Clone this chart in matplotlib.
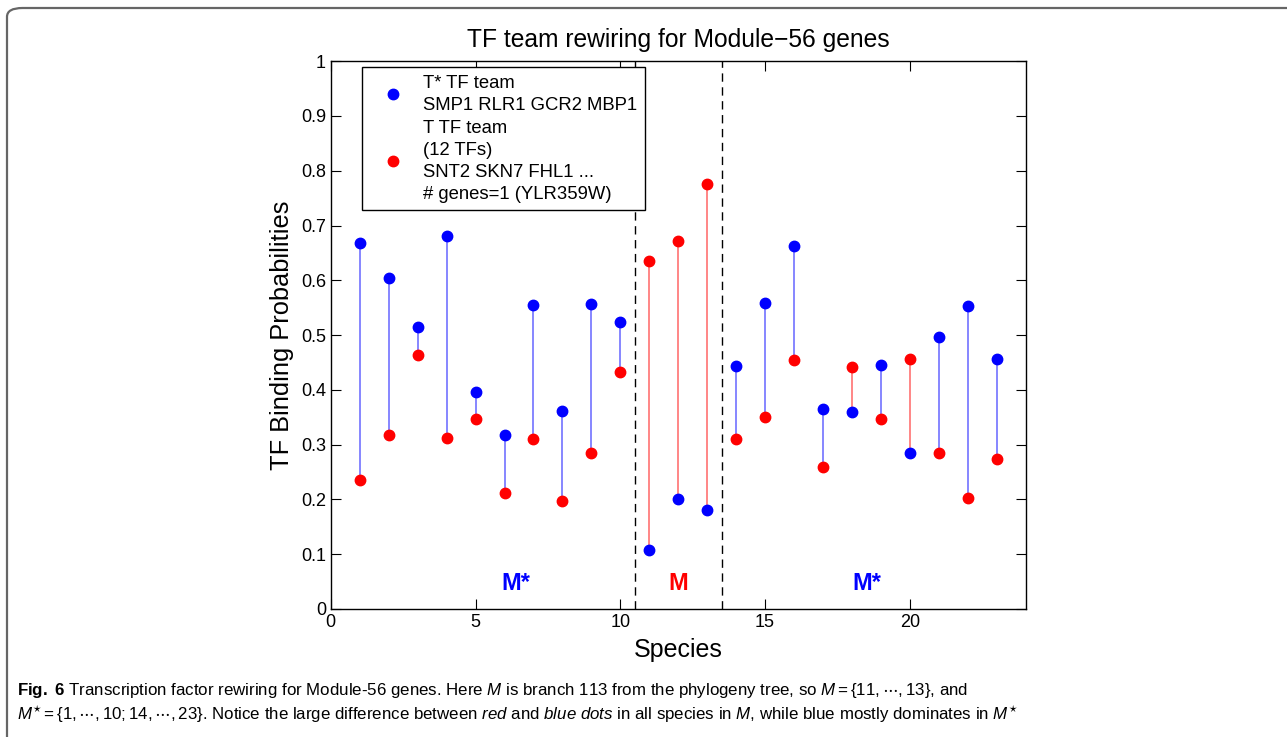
import numpy as np
import matplotlib
matplotlib.use('Agg')
import matplotlib.pyplot as plt
from matplotlib.patches import FancyBboxPatch

plt.rcParams['font.family'] = ['Liberation Sans', 'DejaVu Sans']
plt.rcParams['mathtext.fontset'] = 'custom'
plt.rcParams['mathtext.rm'] = 'Liberation Sans'
plt.rcParams['mathtext.it'] = 'Liberation Sans:italic'
plt.rcParams['mathtext.bf'] = 'Liberation Sans:bold'

# Data
species = np.arange(1, 24)
p_blue = [0.668, 0.604, 0.515, 0.680, 0.397, 0.318, 0.554, 0.362, 0.557, 0.523,
          0.107, 0.200, 0.180,
          0.443, 0.559, 0.662, 0.365, 0.360, 0.446, 0.285, 0.497, 0.553, 0.457]
p_red = [0.235, 0.318, 0.463, 0.312, 0.346, 0.212, 0.310, 0.198, 0.284, 0.432,
         0.636, 0.671, 0.776,
         0.311, 0.350, 0.455, 0.260, 0.442, 0.347, 0.456, 0.284, 0.203, 0.273]
branch_edges = [10.5, 13.5]
regions = [(6.4, 'M*', 'blue'), (12.0, 'M', 'red'), (18.5, 'M*', 'blue')]

label_blue = 'T* TF team\nSMP1 RLR1 GCR2 MBP1'
label_red = 'T TF team\n(12 TFs)\nSNT2 SKN7 FHL1 ...\n# genes=1 (YLR359W)'

fig = plt.figure(figsize=(12.87, 7.37), dpi=100)
ax = fig.add_axes([0.257, 0.1737, 0.54, 0.7433])

# connecting lines, coloured by the larger value
for s, b, r in zip(species, p_blue, p_red):
    col = '#3333ff' if b >= r else '#ff3333'
    ax.plot([s, s], [b, r], color=col, lw=1.1, alpha=0.75, zorder=1)

ax.plot(species, p_blue, 'o', color='blue', ms=7.5, mec='blue', zorder=3, label=label_blue)
ax.plot(species, p_red, 'o', color='red', ms=7.5, mec='red', zorder=2, label=label_red)

for xe in branch_edges:
    ax.axvline(xe, color='black', ls=(0, (6, 4)), lw=1.0, zorder=0)

for x, txt, col in regions:
    ax.text(x, 0.047, txt, color=col, fontsize=17, fontweight='bold', ha='center', va='center')

ax.set_xlim(0, 24)
ax.set_ylim(0, 1)
ax.set_xticks([0, 5, 10, 15, 20])
ax.set_yticks(np.arange(0, 1.01, 0.1))
ax.set_yticklabels(['0', '0.1', '0.2', '0.3', '0.4', '0.5', '0.6', '0.7', '0.8', '0.9', '1'])
ax.tick_params(direction='in', top=True, right=True, labelsize=13, length=7, width=0.8)
for sp in ax.spines.values():
    sp.set_linewidth(1.0)

ax.set_title('TF team rewiring for Module\u221256 genes', fontsize=17.7, pad=10)
ax.set_ylabel('TF Binding Probabilities', fontsize=18.3, labelpad=5)
ax.set_xlabel('Species', fontsize=18, labelpad=5)

leg = ax.legend(loc='upper left', bbox_to_anchor=(0.045, 0.989), borderaxespad=0,
                fontsize=13.3, fancybox=False, edgecolor='black', framealpha=1,
                handlelength=2.5, handletextpad=0.4, labelspacing=0.35,
                borderpad=0.4, numpoints=1)
leg.get_frame().set_linewidth(1.0)
for t in leg.get_texts():
    t.set_linespacing(1.38)

# outer rounded border
border = FancyBboxPatch((7 / 1287, -0.05), 1.1, 1 - 8 / 737 + 0.05,
                        boxstyle='round,pad=0,rounding_size=0.012',
                        transform=fig.transFigure, fill=False,
                        edgecolor='#666666', lw=1.6, clip_on=False)
fig.patches.append(border)

cap1 = (r'$\bf{Fig.\ 6}$ Transcription factor rewiring for Module-56 genes. Here $\it{M}$ is branch 113 '
        r'from the phylogeny tree, so $M = \{11, \cdots, 13\}$, and')
cap2 = (r'$M^{\star} = \{1, \cdots, 10; 14, \cdots, 23\}$. Notice the large difference between $\it{red}$ '
        r'and $\it{blue\ dots}$ in all species in $\it{M}$, while blue mostly dominates in $M^{\star}$')
fig.text(17 / 1287, 1 - 690 / 737, cap1, fontsize=12.2, va='center', ha='left')
fig.text(17 / 1287, 1 - 714 / 737, cap2, fontsize=12.2, va='center', ha='left')

fig.savefig('out.png', dpi=100)
